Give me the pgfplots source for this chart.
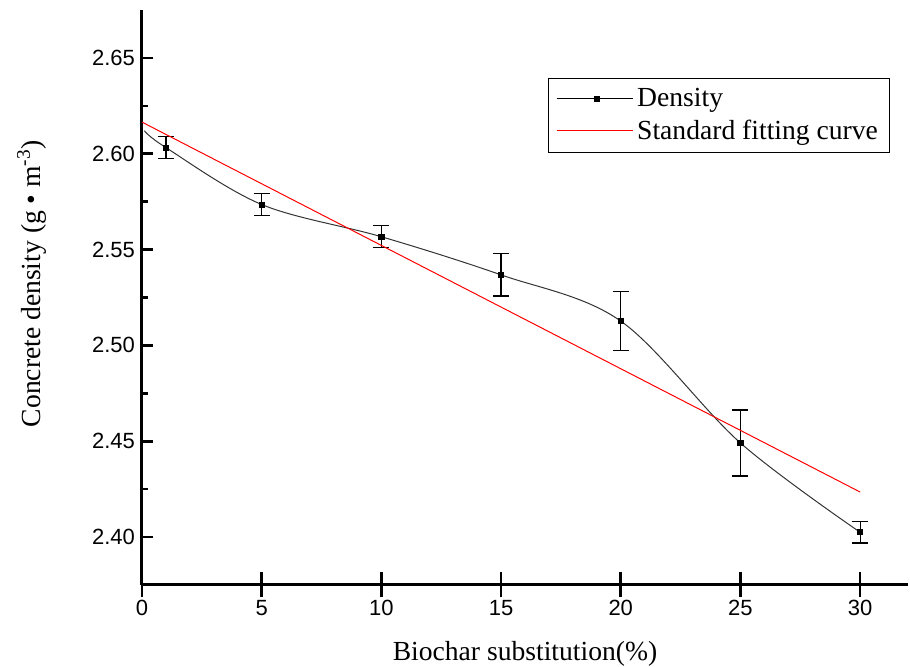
\documentclass[border=0pt]{standalone}
\usepackage{fontspec}
\setmainfont{Liberation Serif}
\newfontfamily\arial{Liberation Sans}
\usepackage{pgfplots}
\pgfplotsset{compat=1.18}

% measured density with error bars (x, y, err)
\begin{document}
\begin{tikzpicture}
\begin{axis}[
  scale only axis,
  width=383pt, height=287.5pt,
  xmin=0, xmax=32, ymin=2.375, ymax=2.675,
  axis x line=bottom, axis y line=left,
  axis line style={-, line width=1.5pt},
  xtick={0,5,...,30},
  ytick={2.40,2.45,...,2.66},
  minor y tick num=1,
  tick align=inside,
  major tick length=5.5pt, minor tick length=3pt,
  every tick/.style={black, line width=1.3pt},
  xtick style={/pgfplots/major tick length=12.5pt, yshift=-6.25pt},
  tick label style={font=\arial\fontsize{11}{13}\selectfont},
  /pgf/number format/assume math mode=true,
  yticklabel style={/pgf/number format/.cd, fixed, fixed zerofill, precision=2},
  xticklabel style={yshift=-4pt},
  xlabel={Biochar substitution(\%)},
  ylabel={Concrete density (g • m\textsuperscript{-3})},
  label style={font=\fontsize{13.8}{16.5}\selectfont},
  xlabel style={yshift=-6pt},
  ylabel style={yshift=16pt, xshift=7pt},
  legend style={at={(rel axis cs:0.977,0.882)}, anchor=north east,
    draw=black, line width=0.5pt, font=\fontsize{13.8}{16.5}\selectfont,
    inner xsep=4pt, inner ysep=3pt, row sep=1pt},
  legend cell align=left,
  clip=false,
]
% spline through the measured points
\addplot[forget plot, smooth, tension=0.55, color=black!80, line width=0.5pt] coordinates {
  (0.1,2.612) (1,2.6032) (5,2.5735) (10,2.5567) (15,2.5368) (20,2.5127) (25,2.4491) (30,2.4025)};
% measured points
\addplot[forget plot, only marks, mark=square*, mark size=1.3pt, black,
  error bars/.cd, y dir=both, y explicit,
  error bar style={line width=0.6pt, black},
  error mark options={rotate=90, mark size=4pt, line width=0.6pt}]
  coordinates {
  (1,2.6032) +- (0,0.0057)
  (5,2.5735) +- (0,0.0057)
  (10,2.5567) +- (0,0.0058)
  (15,2.5368) +- (0,0.0110)
  (20,2.5127) +- (0,0.0153)
  (25,2.4491) +- (0,0.0172)
  (30,2.4025) +- (0,0.0056)};
% linear fit
\addplot[forget plot, red, line width=0.5pt] coordinates {(0,2.6165) (30,2.4235)};

\addlegendimage{black, line width=0.5pt, legend image code/.code={
  \path (0pt,0pt) -- (38pt,0pt);
  \draw[black, line width=0.5pt] (4pt,0pt) -- (18pt,0pt);
  \draw[black, line width=0.5pt] (22.5pt,0pt) -- (35.5pt,0pt);
  \fill[black] (18.9pt,-1.3pt) rectangle (21.5pt,1.3pt);}}
\addlegendentry{Density}
\addlegendimage{red, line width=0.5pt, legend image code/.code={
  \path (0pt,0pt) -- (38pt,0pt);
  \draw[red, line width=0.5pt] (4pt,0pt) -- (35.5pt,0pt);}}
\addlegendentry{Standard fitting curve}
\end{axis}
\pgfresetboundingbox
\path[use as bounding box] ([xshift=-71pt,yshift=-41pt]current axis.south west) rectangle ([xshift=1pt,yshift=5pt]current axis.north east);
\end{tikzpicture}
\end{document}
